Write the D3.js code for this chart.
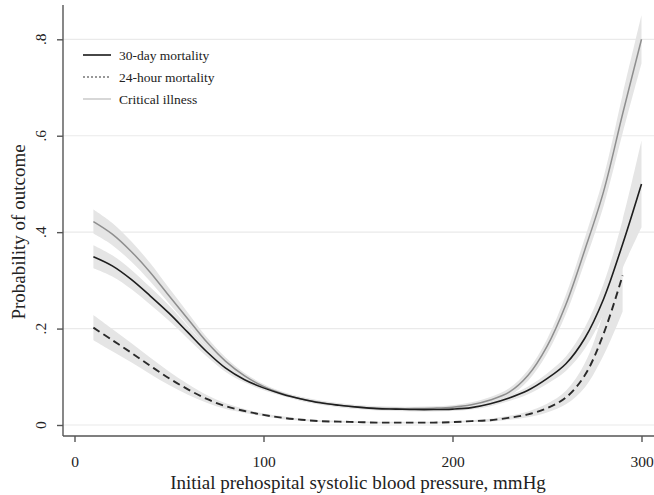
<!DOCTYPE html>
<html>
<head>
<meta charset="utf-8">
<script src="https://cdn.jsdelivr.net/npm/d3@7"></script>
<style>
  body { margin: 0; background: #fff; }
  svg text { font-family: "Liberation Serif", "Times New Roman", serif; fill: #222; }
</style>
</head>
<body>
<div id="chart"></div>
<script>
// systolic blood pressure, mmHg
var sbp = [10,20,30,40,50,60,70,80,90,100,110,120,130,140,150,160,170,180,190,200,210,220,230,240,250,260,270,280,290,300];

// critical illness
var critMid = [.422,.396,.360,.317,.268,.220,.172,.132,.102,.080,.065,.054,.047,.041,.037,.035,.034,.034,.035,.037,.042,.052,.068,.103,.163,.250,.363,.485,.645,.800];
var critLo  = [.397,.373,.339,.298,.252,.207,.162,.124,.096,.075,.061,.050,.043,.037,.033,.031,.030,.030,.031,.033,.037,.046,.060,.092,.148,.230,.338,.455,.605,.750];
var critHi  = [.447,.419,.381,.336,.284,.233,.182,.140,.108,.085,.069,.058,.051,.045,.041,.039,.038,.038,.039,.041,.047,.058,.076,.114,.178,.270,.388,.515,.685,.850];

// 30-day mortality
var d30Mid = [.349,.330,.302,.268,.232,.192,.152,.118,.094,.077,.064,.054,.046,.041,.037,.034,.033,.032,.032,.033,.036,.044,.056,.072,.096,.127,.180,.262,.375,.500];
var d30Lo  = [.325,.308,.282,.250,.216,.179,.142,.110,.088,.072,.060,.050,.042,.037,.033,.030,.029,.028,.028,.029,.032,.039,.050,.064,.085,.112,.158,.230,.325,.410];
var d30Hi  = [.373,.352,.322,.286,.248,.205,.162,.126,.100,.082,.068,.058,.050,.045,.041,.038,.037,.036,.036,.037,.040,.049,.062,.080,.107,.142,.202,.294,.425,.590];

// 24-hour mortality (curve stops at 290)
var h24Mid = [.202,.176,.150,.123,.097,.074,.054,.039,.029,.021,.015,.011,.008,.007,.006,.005,.005,.005,.005,.006,.008,.010,.015,.022,.035,.057,.103,.190,.310];
var h24Lo  = [.176,.153,.130,.106,.083,.063,.046,.033,.025,.018,.012,.009,.006,.005,.004,.003,.003,.003,.003,.004,.006,.007,.011,.016,.026,.043,.078,.145,.235];
var h24Hi  = [.228,.199,.170,.140,.111,.085,.062,.045,.033,.024,.018,.013,.010,.009,.008,.007,.007,.007,.007,.008,.010,.013,.019,.028,.044,.071,.128,.235,.385];

var xTicks = [0, 100, 200, 300];
var yTicks = [0, .2, .4, .6, .8];
var yTickLabels = ["0", ".2", ".4", ".6", ".8"];

var W = 654, H = 495;
var svg = d3.select("#chart").append("svg")
  .attr("width", W).attr("height", H);

var x = d3.scaleLinear().domain([0, 300]).range([74.5, 641.5]);
var y = d3.scaleLinear().domain([0, .8]).range([425, 39.3]);

var axisLeftX = 63, axisBottomY = 436;

// gridlines
svg.append("g").selectAll("line")
  .data(yTicks).enter().append("line")
  .attr("x1", axisLeftX).attr("x2", W)
  .attr("y1", function(d) { return y(d); })
  .attr("y2", function(d) { return y(d); })
  .style("stroke", "#eaeaea").style("stroke-width", 1.2);

function rows(mid, lo, hi) {
  return mid.map(function(m, i) { return {x: sbp[i], m: m, lo: lo[i], hi: hi[i]}; });
}
var series = [
  {name: "Critical illness", data: rows(critMid, critLo, critHi), color: "#8e8e8e", width: 1.5, dash: null},
  {name: "30-day mortality", data: rows(d30Mid, d30Lo, d30Hi), color: "#1e1e1e", width: 1.6, dash: null},
  {name: "24-hour mortality", data: rows(h24Mid, h24Lo, h24Hi), color: "#2a2a2a", width: 1.9, dash: "7.5,4.5"}
];

var curve = d3.curveCatmullRom.alpha(0.5);
var area = d3.area().curve(curve)
  .x(function(d) { return x(d.x); })
  .y0(function(d) { return y(d.lo); })
  .y1(function(d) { return y(d.hi); });
var line = d3.line().curve(curve)
  .x(function(d) { return x(d.x); })
  .y(function(d) { return y(d.m); });

// confidence bands
svg.append("g").selectAll("path")
  .data(series).enter().append("path")
  .attr("d", function(d) { return area(d.data); })
  .style("fill", "#e5e5e5").style("stroke", "none");

// lines
svg.append("g").selectAll("path")
  .data(series).enter().append("path")
  .attr("d", function(d) { return line(d.data); })
  .style("fill", "none")
  .style("stroke", function(d) { return d.color; })
  .style("stroke-width", function(d) { return d.width; })
  .style("stroke-dasharray", function(d) { return d.dash; });

// axes
var yAxis = svg.append("g")
  .attr("transform", "translate(" + axisLeftX + ",0)")
  .call(d3.axisLeft(y).tickValues(yTicks).tickSize(6).tickFormat(""));
yAxis.select(".domain").attr("d", "M0,5V" + axisBottomY);
yAxis.selectAll(".tick text").remove();
yAxis.selectAll("line, path").style("stroke", "#555").style("stroke-width", 1.4);

svg.append("g").selectAll("text")
  .data(yTicks).enter().append("text")
  .attr("transform", function(d) { return "translate(46," + y(d) + ") rotate(-90)"; })
  .attr("text-anchor", "middle")
  .style("font-size", "15.5px")
  .text(function(d, i) { return yTickLabels[i]; });

var xAxis = svg.append("g")
  .attr("transform", "translate(0," + axisBottomY + ")")
  .call(d3.axisBottom(x).tickValues(xTicks).tickSize(6).tickFormat(d3.format("d")));
xAxis.select(".domain").attr("d", "M" + axisLeftX + ",0H" + W);
xAxis.selectAll("line, path").style("stroke", "#555").style("stroke-width", 1.4);
xAxis.selectAll(".tick text")
  .attr("y", 20)
  .style("font-family", "Liberation Serif, serif")
  .style("font-size", "15.5px").style("fill", "#222");

// axis titles
svg.append("text")
  .attr("x", 358).attr("y", 489)
  .attr("text-anchor", "middle")
  .style("font-size", "19px")
  .text("Initial prehospital systolic blood pressure, mmHg");

svg.append("text")
  .attr("transform", "translate(25,232) rotate(-90)")
  .attr("text-anchor", "middle")
  .style("font-size", "19px")
  .text("Probability of outcome");

// legend
var legend = [
  {label: "30-day mortality", color: "#333", width: 1.8, dash: null},
  {label: "24-hour mortality", color: "#333", width: 1.2, dash: "2,2"},
  {label: "Critical illness", color: "#bdbdbd", width: 1.2, dash: null}
];
var lg = svg.append("g").selectAll("g")
  .data(legend).enter().append("g")
  .attr("transform", function(d, i) { return "translate(83," + (55 + i * 22) + ")"; });
lg.append("line")
  .attr("x1", 0).attr("x2", 28)
  .style("stroke", function(d) { return d.color; })
  .style("stroke-width", function(d) { return d.width; })
  .style("stroke-dasharray", function(d) { return d.dash; });
lg.append("text")
  .attr("x", 36).attr("y", 4.5)
  .style("font-size", "13.5px")
  .text(function(d) { return d.label; });
</script>
</body>
</html>
